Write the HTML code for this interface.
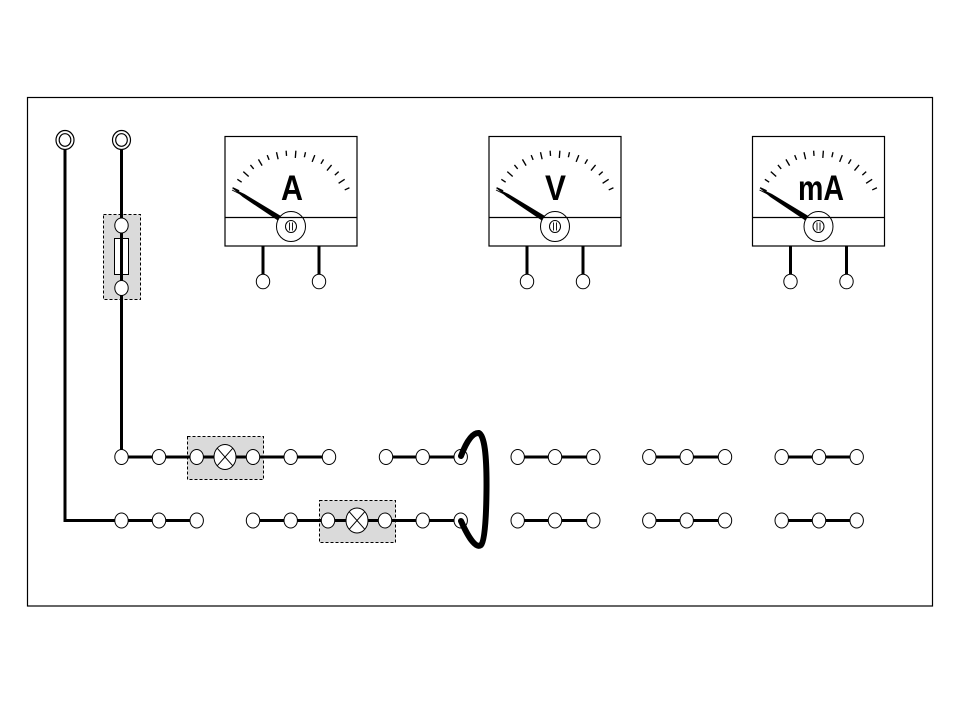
<!DOCTYPE html>
<html><head><meta charset="utf-8"><style>
html,body{margin:0;padding:0;background:#fff;}
svg{display:block;}
</style></head><body>
<svg width="960" height="720" viewBox="0 0 960 720" xmlns="http://www.w3.org/2000/svg">
<defs>
<g id="meterbase">
  <rect x="-66" y="136.5" width="132" height="109.5" fill="#fff" stroke="#000" stroke-width="1.2"/>
  <line x1="-66" y1="217.5" x2="66" y2="217.5" stroke="#000" stroke-width="1.2"/>
  <g stroke="#000" stroke-width="1.3" fill="none" transform="translate(0,215) scale(1.04) translate(0,-215)">
    <line x1="-56.19" y1="188.80" x2="-49.85" y2="191.76"/>
    <line x1="-51.60" y1="180.63" x2="-47.44" y2="183.40"/>
    <line x1="-45.86" y1="173.27" x2="-40.68" y2="177.99"/>
    <line x1="-39.02" y1="166.82" x2="-35.87" y2="170.71"/>
    <line x1="-31.31" y1="161.49" x2="-27.78" y2="167.53"/>
    <line x1="-22.89" y1="157.38" x2="-21.04" y2="162.03"/>
    <line x1="-13.95" y1="154.59" x2="-12.38" y2="161.41"/>
    <line x1="-4.68" y1="153.18" x2="-4.30" y2="158.17"/>
    <line x1="4.68" y1="153.18" x2="4.15" y2="160.16"/>
    <line x1="13.95" y1="154.59" x2="12.83" y2="159.46"/>
    <line x1="22.89" y1="157.38" x2="20.31" y2="163.89"/>
    <line x1="31.31" y1="161.49" x2="28.79" y2="165.80"/>
    <line x1="39.02" y1="166.82" x2="34.61" y2="172.26"/>
    <line x1="45.86" y1="173.27" x2="42.16" y2="176.64"/>
    <line x1="51.60" y1="180.63" x2="45.78" y2="184.51"/>
    <line x1="56.19" y1="188.80" x2="51.66" y2="190.90"/>
  </g>
  <polygon points="-10.5,215.7 -46.5,194 -59,188 -48.2,197 -13.5,220.3" fill="#000"/>
  <line x1="-46" y1="196.5" x2="-59" y2="190" stroke="#000" stroke-width="0.9"/>
  <ellipse cx="0" cy="226.5" rx="14.5" ry="15" fill="none" stroke="#000" stroke-width="1"/>
  <ellipse cx="0" cy="226.5" rx="5.5" ry="6" fill="none" stroke="#000" stroke-width="1"/>
  <line x1="-1.5" y1="222.5" x2="-1.5" y2="230.5" stroke="#000" stroke-width="0.9"/>
  <line x1="1.5" y1="222.5" x2="1.5" y2="230.5" stroke="#000" stroke-width="0.9"/>
  <line x1="-28" y1="246" x2="-28" y2="275" stroke="#000" stroke-width="3"/>
  <line x1="28" y1="246" x2="28" y2="275" stroke="#000" stroke-width="3"/>
  <ellipse cx="-28" cy="281.5" rx="6.7" ry="7.3" fill="#fff" stroke="#000" stroke-width="1"/>
  <ellipse cx="28" cy="281.5" rx="6.7" ry="7.3" fill="#fff" stroke="#000" stroke-width="1"/>
</g>
<ellipse id="c" cx="0" cy="0" rx="6.7" ry="7.5" fill="#fff" stroke="#000" stroke-width="1"/>
<g id="lamp">
  <ellipse cx="0" cy="0" rx="11" ry="12.5" fill="#fff" stroke="#000" stroke-width="1"/>
  <line x1="-7.8" y1="-8.8" x2="7.8" y2="8.8" stroke="#000" stroke-width="1"/>
  <line x1="7.8" y1="-8.8" x2="-7.8" y2="8.8" stroke="#000" stroke-width="1"/>
</g>
</defs>

<!-- frame -->
<rect x="27.5" y="97.5" width="905" height="508.5" fill="none" stroke="#000" stroke-width="1.2"/>

<!-- gray boxes -->
<rect x="103.5" y="214.5" width="37" height="85" fill="#dadada" stroke="#000" stroke-width="1" stroke-dasharray="3,2"/>
<rect x="187.5" y="436.5" width="76" height="43" fill="#dadada" stroke="#000" stroke-width="1" stroke-dasharray="3,2"/>
<rect x="319.5" y="500.5" width="76" height="42" fill="#dadada" stroke="#000" stroke-width="1" stroke-dasharray="3,2"/>

<!-- wires -->
<g stroke="#000" stroke-width="3" fill="none">
  <polyline points="65,149 65,520.5 197,520.5"/>
  <line x1="121.5" y1="149" x2="121.5" y2="457"/>
  <line x1="121.5" y1="457" x2="329" y2="457"/>
  <line x1="386" y1="457" x2="461" y2="457"/>
  <line x1="253" y1="520.5" x2="461" y2="520.5"/>
  <line x1="517.7" y1="457" x2="593.3" y2="457"/>
  <line x1="649.3" y1="457" x2="725" y2="457"/>
  <line x1="781.7" y1="457" x2="856.7" y2="457"/>
  <line x1="517.7" y1="520.5" x2="593.3" y2="520.5"/>
  <line x1="649.3" y1="520.5" x2="725" y2="520.5"/>
  <line x1="781.7" y1="520.5" x2="856.7" y2="520.5"/>
</g>

<!-- top terminals -->
<g fill="#fff" stroke="#000" stroke-width="1.2">
  <ellipse cx="65" cy="140" rx="9" ry="9.5"/>
  <ellipse cx="65" cy="140" rx="5.8" ry="6.3"/>
  <ellipse cx="121.5" cy="140" rx="9" ry="9.5"/>
  <ellipse cx="121.5" cy="140" rx="5.8" ry="6.3"/>
</g>

<!-- fuse -->
<ellipse cx="121.5" cy="225.5" rx="6.7" ry="7.5" fill="#fff" stroke="#000" stroke-width="1"/>
<ellipse cx="121.5" cy="288" rx="6.7" ry="7.5" fill="#fff" stroke="#000" stroke-width="1"/>
<line x1="121.5" y1="233" x2="121.5" y2="281" stroke="#000" stroke-width="3"/>
<rect x="114.5" y="238.5" width="14" height="36" fill="#fff" stroke="#000" stroke-width="1"/>
<line x1="121.5" y1="238.5" x2="121.5" y2="274.5" stroke="#000" stroke-width="3"/>

<!-- top row circles -->
<use href="#c" x="121.5" y="457"/>
<use href="#c" x="159" y="457"/>
<use href="#c" x="196.7" y="457"/>
<use href="#lamp" x="225" y="457"/>
<use href="#c" x="253" y="457"/>
<use href="#c" x="290.7" y="457"/>
<use href="#c" x="329" y="457"/>
<use href="#c" x="386" y="457"/>
<use href="#c" x="422.7" y="457"/>
<use href="#c" x="460.7" y="457"/>
<use href="#c" x="517.7" y="457"/>
<use href="#c" x="555" y="457"/>
<use href="#c" x="593.3" y="457"/>
<use href="#c" x="649.3" y="457"/>
<use href="#c" x="686.7" y="457"/>
<use href="#c" x="725" y="457"/>
<use href="#c" x="781.7" y="457"/>
<use href="#c" x="819" y="457"/>
<use href="#c" x="856.7" y="457"/>

<!-- bottom row circles -->
<use href="#c" x="121.5" y="520.5"/>
<use href="#c" x="159" y="520.5"/>
<use href="#c" x="196.7" y="520.5"/>
<use href="#c" x="253" y="520.5"/>
<use href="#c" x="290.7" y="520.5"/>
<use href="#c" x="328" y="520.5"/>
<use href="#lamp" x="357" y="520.5"/>
<use href="#c" x="385" y="520.5"/>
<use href="#c" x="422.7" y="520.5"/>
<use href="#c" x="460.7" y="520.5"/>
<use href="#c" x="517.7" y="520.5"/>
<use href="#c" x="555" y="520.5"/>
<use href="#c" x="593.3" y="520.5"/>
<use href="#c" x="649.3" y="520.5"/>
<use href="#c" x="686.7" y="520.5"/>
<use href="#c" x="725" y="520.5"/>
<use href="#c" x="781.7" y="520.5"/>
<use href="#c" x="819" y="520.5"/>
<use href="#c" x="856.7" y="520.5"/>

<!-- thick loop -->
<path d="M461,456 Q470,432 479,433 Q487,437 486.5,490 Q486,540 481,545 Q474,550 461,521" fill="none" stroke="#000" stroke-width="6" stroke-linecap="round" stroke-linejoin="round"/>

<!-- meters -->
<use href="#meterbase" x="291" y="0"/>
<use href="#meterbase" x="555" y="0"/>
<use href="#meterbase" x="818.5" y="0"/>
<g font-family="'Liberation Sans', Arial, sans-serif" font-weight="bold" font-size="35" text-anchor="middle" fill="#000">
  <text x="292" y="200" textLength="22" lengthAdjust="spacingAndGlyphs">A</text>
  <text x="555.5" y="200" textLength="21" lengthAdjust="spacingAndGlyphs">V</text>
  <text x="821" y="200" textLength="46" lengthAdjust="spacingAndGlyphs">mA</text>
</g>
</svg>
</body></html>
